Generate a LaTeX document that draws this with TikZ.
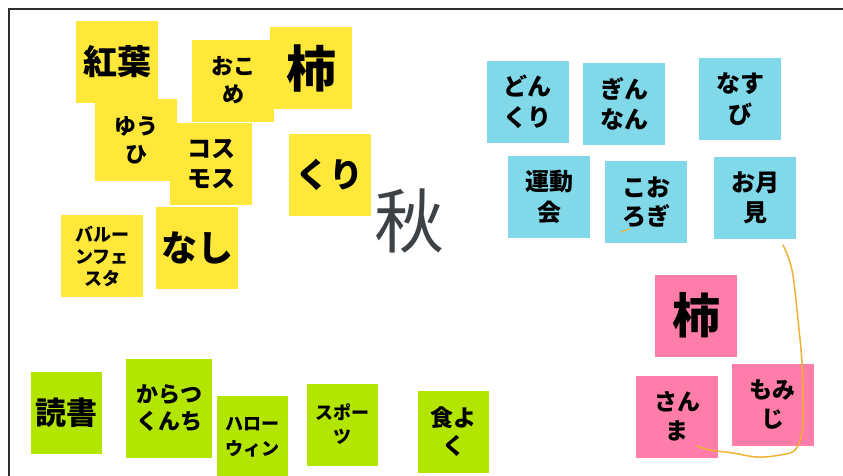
\documentclass[tikz,border=0pt]{standalone}
\usepackage{fontspec}
\newfontfamily\jp{Noto Sans CJK JP}
\definecolor{yel}{HTML}{FFE83A}
\definecolor{blu}{HTML}{80D8E8}
\definecolor{grn}{HTML}{B2E600}
\definecolor{pnk}{HTML}{FF7DAA}
\definecolor{frm}{HTML}{2E2E2E}
\definecolor{aki}{HTML}{3D4247}
\definecolor{orng}{HTML}{F0B232}
\tikzset{
  note/.style={inner sep=0pt, align=center, text=black},
  fs/.style 2 args={font=\jp\bfseries\fontsize{#1}{#2}\selectfont},
  sq/.style={minimum width=82, minimum height=82},
  nar/.style={minimum width=71, minimum height=82},
  penline/.style={draw=orng, line width=1.5pt, line cap=round}
}
\begin{document}
\begin{tikzpicture}[x=1pt,y=-1pt]
\useasboundingbox (0,0) rectangle (843,475);
% frame
\draw[frm, line width=2pt] (9,476) -- (9,9) -- (844,9);
% yellow group
\node[note, sq, fill=yel, fs={22}{28}] (yuhi) at (136,140) {ゆう\\ひ};
\node[note, sq, fill=yel, fs={34}{40}] (koyo) at (117,61.5) {紅葉};
\node[note, sq, fill=yel, fs={22}{28}] (okome) at (233,80.5) {おこ\\め};
\node[note, sq, fill=yel, fs={50}{56}] (kakiy) at (311,68) {柿};
\node[note, sq, fill=yel, fs={24}{30}] (kosumosu) at (211,164) {コス\\モス};
\node[note, sq, fill=yel, fs={34}{40}] (kuri) at (329.5,175) {くり};
\node[note, sq, fill=yel, fs={18}{22}] (baruun) at (102,256) {バルー\\ンフェ\\スタ};
\node[note, sq, fill=yel, fs={36}{42}] (nashi) at (197,248) {なし};
% center word
\node[inner sep=0pt, text=aki, font=\jp\fontsize{70}{70}\selectfont] (aki) at (409,221) {秋};
% blue group
\node[note, sq, fill=blu, fs={24}{31}] (donguri) at (527.5,102) {どん\\くり};
\node[note, sq, fill=blu, fs={24}{30}] (ginnan) at (624,103.5) {ぎん\\なん};
\node[note, sq, fill=blu, fs={24}{31}] (nasubi) at (740,99) {なす\\び};
\node[note, sq, fill=blu, fs={24}{31}] (undokai) at (549,197) {運動\\会};
\node[note, sq, fill=blu, fs={24}{29}] (korogi) at (646,202) {こお\\ろぎ};
\node[note, sq, fill=blu, fs={24}{30}] (otsukimi) at (755,197.5) {お月\\見};
% pink group
\node[note, sq, fill=pnk, fs={48}{54}] (kakip) at (696,315.5) {柿};
\node[note, sq, fill=pnk, fs={23}{29}] (sanma) at (677,416.5) {さん\\ま};
\node[note, sq, fill=pnk, fs={23}{29}] (momiji) at (772.5,404.5) {もみ\\じ};
% green group
\node[note, nar, fill=grn, fs={31}{38}] (dokusho) at (66.5,413) {読書};
\node[note, minimum width=86, minimum height=99, fill=grn, fs={22}{27}] (karatsu) at (169,408.5) {からつ\\くんち};
\node[note, minimum width=71, minimum height=82, fill=grn, fs={18}{25}] (harowin) at (252.5,437) {ハロー\\ウィン};
\node[note, nar, fill=grn, fs={18}{24}] (supotsu) at (342.5,424.5) {スポー\\ツ};
\node[note, nar, fill=grn, fs={23}{28}] (shokuyoku) at (453.5,432) {食よ\\く};
% pen strokes
\coordinate (penA) at (783,245);
\coordinate (penB) at (697,446);
\draw[penline] plot[smooth, tension=0.6] coordinates {(penA) (792,270) (798,320) (802,363) (803,407) (802,433) (795,450) (780,455) (757,457) (733,453) (710,450) (penB)};
\coordinate (markA) at (621,232);
\coordinate (markB) at (629,229);
\draw[penline, line width=1.2pt] (markA) -- (markB);
\end{tikzpicture}
\end{document}
